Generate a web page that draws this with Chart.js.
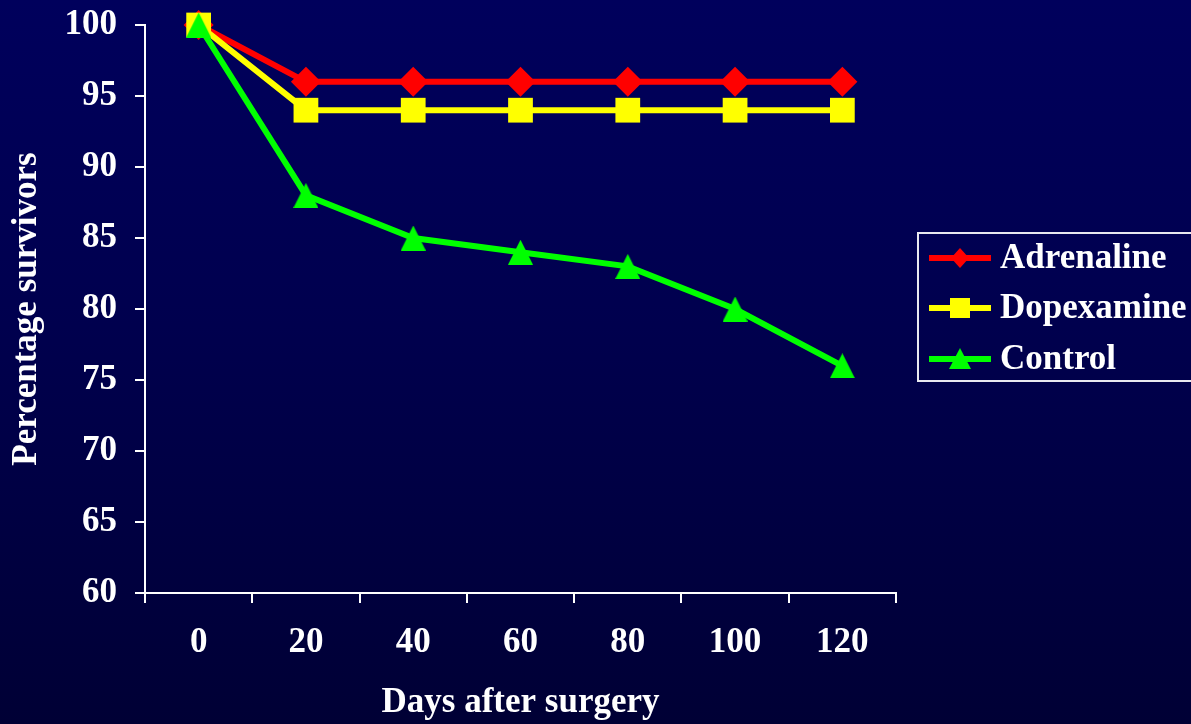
<!DOCTYPE html>
<html>
<head>
<meta charset="utf-8">
<script src="https://cdn.jsdelivr.net/npm/chart.js@4/dist/chart.umd.min.js"></script>
<style>
  html, body { margin: 0; padding: 0; overflow: hidden; }
  #wrap {
    width: 1191px; height: 724px; position: relative;
    background: linear-gradient(to bottom, #00005c 0%, #00004e 45%, #000035 100%);
  }
</style>
</head>
<body>
<div id="wrap"><canvas id="c"></canvas></div>
<script>
// Survival over time after surgery, per treatment group
const days = ['0', '20', '40', '60', '80', '100', '120'];
const adrenaline = [100, 96, 96, 96, 96, 96, 96];
const dopexamine = [100, 94, 94, 94, 94, 94, 94];
const control = [100, 88, 85, 84, 83, 80, 76];
const yTicks = [60, 65, 70, 75, 80, 85, 90, 95, 100];

const FONT = 'Liberation Serif, Times New Roman, serif';
const FS = 35;

// Upright triangle marker whose box is centred on the data point
function triangleMarker(size, color) {
  const cv = document.createElement('canvas');
  cv.width = size; cv.height = size;
  const g = cv.getContext('2d');
  g.fillStyle = color;
  g.beginPath();
  g.moveTo(size / 2, 0);
  g.lineTo(size, size);
  g.lineTo(0, size);
  g.closePath();
  g.fill();
  return cv;
}

// Boxed legend drawn beside the plot
const boxedLegend = {
  id: 'boxedLegend',
  afterDraw(chart) {
    const ctx = chart.ctx;
    ctx.save();
    ctx.strokeStyle = '#e8e8f0';
    ctx.lineWidth = 2;
    ctx.strokeRect(918, 233, 300, 148);
    const rows = [258, 308, 359];
    chart.data.datasets.forEach((ds, i) => {
      const y = rows[i];
      ctx.strokeStyle = ds.borderColor;
      ctx.lineWidth = 6;
      ctx.beginPath();
      ctx.moveTo(929, y);
      ctx.lineTo(991, y);
      ctx.stroke();
      ctx.fillStyle = ds.backgroundColor;
      const cx = 960;
      ctx.beginPath();
      if (ds.legendMarker === 'diamond') {
        ctx.moveTo(cx, y - 10); ctx.lineTo(cx + 9, y); ctx.lineTo(cx, y + 10); ctx.lineTo(cx - 9, y);
      } else if (ds.legendMarker === 'square') {
        ctx.rect(cx - 10, y - 10, 20, 20);
      } else {
        ctx.moveTo(cx, y - 11); ctx.lineTo(cx + 11, y + 10); ctx.lineTo(cx - 11, y + 10);
      }
      ctx.closePath();
      ctx.fill();
      ctx.fillStyle = '#ffffff';
      ctx.font = 'bold ' + FS + 'px ' + FONT;
      ctx.textBaseline = 'middle';
      ctx.textAlign = 'left';
      ctx.fillText(ds.label, 1000, y + 1);
    });
    ctx.restore();
  }
};

new Chart(document.getElementById('c'), {
  type: 'line',
  data: {
    labels: days,
    datasets: [
      {
        label: 'Adrenaline', data: adrenaline, order: 3, clip: false,
        borderColor: '#ff0000', backgroundColor: '#ff0000', borderWidth: 6,
        pointStyle: 'rectRot', pointRadius: 15, pointBorderWidth: 0,
        legendMarker: 'diamond'
      },
      {
        label: 'Dopexamine', data: dopexamine, order: 2, clip: false,
        borderColor: '#ffff00', backgroundColor: '#ffff00', borderWidth: 6,
        pointStyle: 'rect', pointRadius: 17.5, pointBorderWidth: 0,
        legendMarker: 'square'
      },
      {
        label: 'Control', data: control, order: 1, clip: false,
        borderColor: '#00ff00', backgroundColor: '#00ff00', borderWidth: 6,
        pointStyle: triangleMarker(25, '#00ff00'), pointRadius: 12,
        legendMarker: 'triangle'
      }
    ]
  },
  options: {
    responsive: true,
    maintainAspectRatio: false,
    animation: false,
    layout: { padding: { left: 0, right: 295, top: 25, bottom: 0 } },
    plugins: { legend: { display: false }, tooltip: { enabled: false } },
    elements: { line: { tension: 0 } },
    scales: {
      x: {
        type: 'category',
        offset: true,
        grid: { offset: true, drawOnChartArea: false, drawTicks: true, tickLength: 10, color: '#ffffff', lineWidth: 2 },
        border: { color: '#ffffff', width: 2 },
        ticks: { color: '#ffffff', padding: 19, font: { family: FONT, size: FS, weight: 'bold' } },
        title: { display: true, text: 'Days after surgery', color: '#ffffff', padding: { top: 0, bottom: 0 },
                 font: { family: FONT, size: FS, weight: 'bold' } },
        afterFit(scale) { scale.height = 131; scale.paddingLeft = 0; scale.paddingRight = 0; }
      },
      y: {
        min: 60, max: 100,
        afterBuildTicks(scale) { scale.ticks = yTicks.map(v => ({ value: v })); },
        grid: { drawOnChartArea: false, drawTicks: true, tickLength: 10, color: '#ffffff', lineWidth: 2 },
        border: { color: '#ffffff', width: 2 },
        ticks: { color: '#ffffff', padding: 18, font: { family: FONT, size: FS, weight: 'bold' } },
        title: { display: true, text: 'Percentage survivors', color: '#ffffff', padding: { top: 6, bottom: 0 },
                 font: { family: FONT, size: FS, weight: 'bold' } },
        afterFit(scale) { scale.width = 145; scale.paddingTop = 0; scale.paddingBottom = 0; }
      }
    }
  },
  plugins: [boxedLegend]
});
</script>
</body>
</html>
